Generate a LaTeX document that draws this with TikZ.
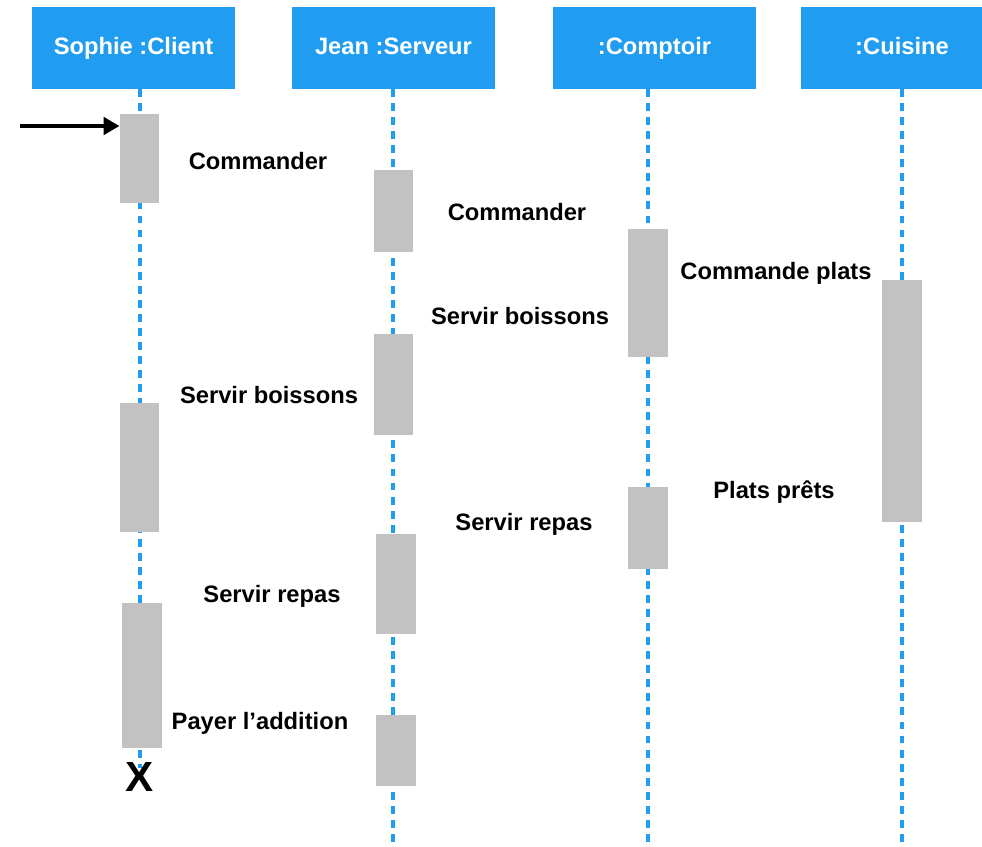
\documentclass[tikz,border=0pt]{standalone}
\usepackage{fontspec}
\setmainfont{Liberation Sans}
\usetikzlibrary{arrows.meta}
\definecolor{umlblue}{RGB}{32,156,240}
\definecolor{actgray}{RGB}{194,194,194}
\begin{document}
\begin{tikzpicture}[x=0.02cm,y=-0.02cm,
    obj/.style={fill=umlblue,text=white,minimum width=4.06cm,
        minimum height=1.64cm,inner sep=0pt,text height=9.7pt,text depth=2.8pt,
        font=\fontsize{13.5}{16}\bfseries\selectfont},
    life/.style={umlblue,line width=1.8pt,dash pattern=on 4.5pt off 3.5pt},
    act/.style={fill=actgray,minimum width=0.79cm,inner sep=0pt},
    msg/.style={anchor=base,inner sep=0pt,
        font=\fontsize{13.5}{16}\bfseries\selectfont}
]
    \useasboundingbox[fill=white] (0,0) rectangle (982,846);

    \node[obj] (client) at (133.5,48) {Sophie :Client};
    \node[obj] (serveur) at (393.5,48) {Jean :Serveur};
    \node[obj] (comptoir) at (654.5,48) {:Comptoir};
    \node[obj] (cuisine) at (902,48) {:Cuisine};

    % lifelines
    \foreach \n/\x/\e in {client/140/768,serveur/393/846,comptoir/648/846,cuisine/902/846}{
        \coordinate (\n top) at (\x,89);
        \coordinate (\n end) at (\x,\e);
        \draw[life] (\n top)--(\n end);
    }

    % activations
    \foreach \n/\x/\t/\b in {c1/139.5/114/203,c2/139.5/403/532,c3/142/603/748,
        s1/393.5/170/252,s2/393.5/334/435,s3/396/534/634,s4/396/715/786,
        k1/648/229/357,k2/648/487/569,q1/902/280/522}
        \node[act,minimum height={(\b-\t)*0.5669pt}] (\n) at (\x,{(\t+\b)/2}) {};

    \coordinate (start) at (20,126);
    \draw[line width=1.8pt,-{Triangle[length=9pt,width=10pt]}] (start)--(c1.west |- start);

    \node[font=\fontsize{24}{24}\bfseries\selectfont,inner sep=0pt] (fin) at (140,777) {X};

    \node[msg] (m1) at (258,169) {Commander};
    \node[msg] (m2) at (517,220) {Commander};
    \node[msg] (m3) at (776,279) {Commande plats};
    \node[msg] (m4) at (520,324) {Servir boissons};
    \node[msg] (m5) at (269,403) {Servir boissons};
    \node[msg] (m6) at (774,498) {Plats prêts};
    \node[msg] (m7) at (524,530) {Servir repas};
    \node[msg] (m8) at (272,602) {Servir repas};
    \node[msg] (m9) at (260,729) {Payer l’addition};
\end{tikzpicture}
\end{document}
